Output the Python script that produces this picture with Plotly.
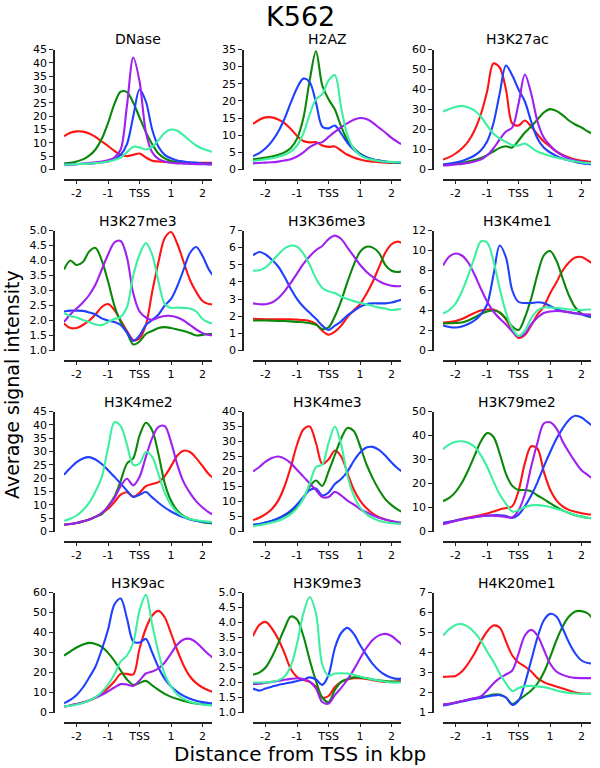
import plotly.graph_objects as go

# ---------------- data ----------------
X_KBP = [-2.4, -2.2, -2.0, -1.8, -1.6, -1.4, -1.2, -1.0, -0.8, -0.6, -0.4, -0.2, 0.0,
         0.2, 0.4, 0.6, 0.8, 1.0, 1.2, 1.4, 1.6, 1.8, 2.0, 2.2, 2.4]
X_TICKS = [-2, -1, 0, 1, 2]
X_TICK_LABELS = ["-2", "-1", "TSS", "1", "2"]

PANEL_NAMES = ["DNase", "H2AZ", "H3K27ac", "H3K27me3", "H3K36me3", "H3K4me1",
               "H3K4me2", "H3K4me3", "H3K79me2", "H3K9ac", "H3K9me3", "H4K20me1"]
# (min, max, step) of each panel's y axis
Y_AXES = [(0, 45, 5), (0, 35, 5), (0, 60, 10), (1.0, 5.0, 0.5), (0, 7, 1), (0, 12, 2),
          (0, 45, 5), (0, 40, 5), (0, 50, 10), (0, 60, 10), (1.0, 5.0, 0.5), (1, 7, 1)]

SERIES = ["red", "green", "blue", "purple", "aqua"]
SERIES_COLORS = {"red": "#ff1414", "green": "#0a880a", "blue": "#2040ff",
                 "purple": "#a020f0", "aqua": "#3cf0a0"}

# DNase
DNASE_RED = [12.5, 13.8, 14.3, 14.2, 13.5, 12.2, 10.5, 8.8, 7.0, 5.5, 5.0, 5.5, 6.0, 4.5, 3.3, 3.0, 2.8, 2.7, 2.6, 2.6, 2.5, 2.5, 2.5, 2.5, 2.5]
DNASE_GREEN = [2.2, 2.5, 3.0, 3.8, 5.2, 7.5, 11.5, 17.5, 24.5, 29.2, 29.0, 25.0, 19.5, 14.0, 9.5, 6.0, 4.2, 3.2, 2.7, 2.4, 2.3, 2.2, 2.1, 2.0, 2.0]
DNASE_BLUE = [1.8, 1.9, 2.0, 2.1, 2.2, 2.4, 2.7, 3.0, 3.8, 5.5, 9.5, 20.0, 30.0, 25.5, 15.0, 8.5, 5.5, 4.2, 3.4, 3.0, 2.7, 2.5, 2.3, 2.2, 2.2]
DNASE_PURPLE = [1.8, 1.9, 2.0, 2.2, 2.4, 2.7, 3.0, 3.5, 4.5, 7.5, 24.0, 42.0, 33.0, 14.0, 6.5, 4.0, 3.0, 2.5, 2.3, 2.2, 2.1, 2.0, 2.0, 1.9, 1.9]
DNASE_AQUA = [1.8, 1.9, 2.0, 2.1, 2.2, 2.4, 2.6, 3.0, 3.6, 4.5, 6.5, 8.5, 8.3, 7.5, 8.5, 11.0, 13.8, 15.0, 14.5, 12.8, 10.8, 9.0, 7.8, 7.0, 6.3]

# H2AZ
H2AZ_RED = [13.3, 14.5, 15.2, 15.2, 14.6, 13.5, 11.8, 9.8, 8.3, 7.9, 8.0, 7.0, 6.6, 6.7, 5.5, 4.3, 3.5, 2.9, 2.5, 2.3, 2.1, 2.0, 1.9, 1.9, 1.9]
H2AZ_GREEN = [3.0, 3.2, 3.5, 3.8, 4.3, 5.0, 6.3, 9.0, 15.0, 26.0, 34.5, 24.5, 20.5, 17.5, 12.5, 8.5, 6.2, 4.6, 3.6, 3.0, 2.6, 2.3, 2.1, 2.0, 2.0]
H2AZ_BLUE = [3.9, 4.8, 6.2, 8.2, 11.0, 14.8, 19.5, 23.8, 26.5, 25.5, 19.5, 12.5, 12.0, 12.8, 10.5, 7.8, 5.8, 4.5, 3.6, 3.0, 2.6, 2.3, 2.1, 2.0, 2.0]
H2AZ_PURPLE = [1.8, 1.9, 2.0, 2.1, 2.3, 2.6, 3.0, 3.8, 5.0, 6.5, 7.5, 8.0, 9.5, 11.0, 12.3, 13.5, 14.5, 15.0, 14.7, 13.7, 12.2, 10.8, 9.2, 8.0, 7.0]
H2AZ_AQUA = [2.5, 2.7, 3.0, 3.3, 3.7, 4.3, 5.2, 7.0, 10.5, 16.0, 20.5, 22.0, 26.0, 27.5, 18.0, 10.0, 6.0, 4.2, 3.3, 2.8, 2.5, 2.3, 2.2, 2.1, 2.1]

# H3K27ac
H3K27AC_RED = [5.0, 6.2, 8.0, 10.5, 14.0, 19.5, 27.5, 39.0, 53.0, 51.0, 40.0, 23.0, 22.0, 24.5, 21.5, 17.5, 14.0, 11.5, 9.0, 7.3, 6.0, 5.0, 4.4, 4.0, 3.7]
H3K27AC_GREEN = [2.5, 2.7, 3.0, 3.4, 4.0, 4.8, 5.8, 7.2, 9.0, 10.8, 11.6, 11.0, 14.5, 18.5, 21.5, 25.0, 28.5, 30.2, 29.3, 27.2, 24.5, 22.5, 21.0, 19.0, 17.5]
H3K27AC_BLUE = [2.5, 3.0, 3.5, 4.3, 5.5, 7.0, 9.5, 14.0, 23.0, 38.0, 52.0, 47.0, 40.0, 34.0, 24.0, 15.5, 11.0, 8.5, 6.8, 5.5, 4.6, 3.8, 3.2, 2.8, 2.6]
H3K27AC_PURPLE = [2.0, 2.2, 2.5, 2.8, 3.3, 4.0, 5.0, 7.0, 10.5, 15.0, 19.0, 21.0, 33.0, 47.5, 38.0, 24.0, 16.0, 12.0, 9.0, 7.0, 5.5, 4.5, 3.8, 3.4, 3.1]
H3K27AC_AQUA = [29.0, 30.3, 31.3, 31.8, 31.0, 29.5, 26.5, 22.0, 18.0, 15.5, 13.8, 12.2, 12.0, 13.0, 11.0, 9.0, 7.8, 6.8, 6.0, 5.3, 4.6, 4.0, 3.5, 3.2, 3.0]

# H3K27me3
H3K27ME3_RED = [1.9, 1.75, 1.75, 1.85, 2.0, 2.2, 2.45, 2.55, 2.35, 2.0, 1.65, 1.35, 1.4, 1.85, 2.95, 3.95, 4.75, 4.95, 4.55, 3.95, 3.35, 2.95, 2.65, 2.55, 2.55]
H3K27ME3_GREEN = [3.7, 4.0, 3.85, 3.95, 4.3, 4.42, 4.0, 3.3, 2.5, 1.95, 1.6, 1.2, 1.3, 1.55, 1.65, 1.75, 1.78, 1.75, 1.7, 1.65, 1.58, 1.5, 1.52, 1.55, 1.55]
H3K27ME3_BLUE = [2.3, 2.33, 2.33, 2.32, 2.27, 2.2, 2.07, 2.0, 1.95, 1.85, 1.6, 1.32, 1.5, 1.85, 2.02, 2.2, 2.5, 2.72, 3.15, 3.7, 4.25, 4.45, 4.15, 3.7, 3.4]
H3K27ME3_PURPLE = [1.95, 2.2, 2.4, 2.6, 2.85, 3.2, 3.7, 4.2, 4.6, 4.65, 4.1, 2.9, 2.3, 2.1, 2.02, 2.1, 2.15, 2.15, 2.1, 2.0, 1.85, 1.7, 1.58, 1.52, 1.5]
H3K27ME3_AQUA = [2.25, 2.15, 2.1, 2.02, 1.95, 1.87, 1.85, 1.95, 2.05, 2.12, 2.45, 3.5, 4.2, 4.58, 4.2, 3.3, 2.55, 2.42, 2.43, 2.42, 2.4, 2.3, 2.05, 1.93, 1.9]

# H3K36me3
H3K36ME3_RED = [1.85, 1.83, 1.82, 1.82, 1.82, 1.82, 1.82, 1.8, 1.78, 1.72, 1.55, 1.15, 0.92, 1.1, 1.45, 1.95, 2.35, 2.7, 3.3, 4.0, 4.85, 5.7, 6.2, 6.35, 6.2]
H3K36ME3_GREEN = [1.75, 1.75, 1.75, 1.74, 1.72, 1.72, 1.7, 1.67, 1.65, 1.6, 1.5, 1.25, 1.35, 2.0, 2.9, 4.0, 5.0, 5.75, 6.05, 6.0, 5.7, 5.0, 4.65, 4.58, 4.68]
H3K36ME3_BLUE = [5.55, 5.75, 5.6, 5.3, 4.9, 4.3, 3.6, 3.0, 2.55, 2.2, 1.85, 1.45, 1.2, 1.45, 1.7, 2.05, 2.3, 2.55, 2.7, 2.75, 2.75, 2.75, 2.8, 2.9, 3.0]
H3K36ME3_PURPLE = [2.75, 2.7, 2.7, 2.8, 3.05, 3.45, 3.95, 4.5, 5.05, 5.5, 5.85, 6.1, 6.5, 6.7, 6.5, 6.0, 5.5, 5.0, 4.6, 4.3, 4.05, 3.88, 3.78, 3.75, 3.78]
H3K36ME3_AQUA = [4.65, 4.68, 4.85, 5.2, 5.6, 5.95, 6.12, 6.05, 5.65, 5.0, 4.2, 3.65, 3.45, 3.35, 3.15, 3.0, 2.88, 2.78, 2.7, 2.6, 2.5, 2.45, 2.36, 2.4, 2.45]

# H3K4me1
H3K4ME1_RED = [2.8, 2.85, 2.95, 3.15, 3.45, 3.75, 4.0, 4.1, 4.1, 3.8, 3.1, 2.0, 1.25, 1.55, 2.5, 3.6, 4.4, 5.7, 6.8, 8.0, 8.8, 9.3, 9.35, 9.0, 8.6]
H3K4ME1_GREEN = [2.7, 2.72, 2.75, 2.8, 3.0, 3.3, 3.65, 3.9, 4.0, 3.8, 3.2, 2.4, 2.05, 3.3, 5.2, 7.6, 9.5, 9.95, 9.0, 7.2, 5.5, 4.3, 3.7, 3.4, 3.3]
H3K4ME1_BLUE = [2.5, 2.35, 2.3, 2.4, 2.65, 3.0, 3.6, 4.6, 7.5, 10.5, 9.3, 6.0, 4.85, 4.75, 4.75, 4.82, 4.75, 4.45, 4.15, 3.95, 3.8, 3.7, 3.6, 3.45, 3.4]
H3K4ME1_PURPLE = [8.5, 9.4, 9.7, 9.5, 8.8, 7.6, 6.2, 4.9, 3.9, 3.2, 2.6, 1.9, 1.4, 1.7, 2.6, 3.3, 3.75, 3.9, 3.95, 3.9, 3.85, 3.75, 3.65, 3.6, 3.6]
H3K4ME1_AQUA = [3.7, 4.05, 4.7, 5.9, 7.5, 9.3, 10.9, 10.8, 9.0, 6.2, 3.8, 2.2, 1.45, 2.0, 3.2, 4.0, 4.3, 4.3, 4.25, 4.2, 4.1, 4.05, 4.05, 4.1, 4.1]

# H3K4me2
H3K4ME2_RED = [2.5, 2.8, 3.2, 3.8, 4.5, 5.5, 6.8, 8.5, 11.0, 13.8, 14.7, 13.0, 14.5, 17.0, 17.8, 18.5, 20.8, 24.5, 28.5, 30.3, 29.8, 27.5, 24.5, 21.5, 19.5]
H3K4ME2_GREEN = [2.5, 2.8, 3.2, 3.8, 4.5, 5.5, 6.5, 9.5, 13.0, 19.0, 25.5, 27.5, 36.0, 40.8, 38.0, 29.0, 18.0, 11.5, 7.8, 5.8, 4.7, 4.0, 3.5, 3.2, 3.0]
H3K4ME2_BLUE = [21.3, 23.8, 26.0, 27.4, 27.9, 27.0, 25.3, 23.0, 20.5, 18.0, 15.3, 13.0, 13.8, 14.8, 12.8, 10.8, 9.0, 7.5, 6.3, 5.3, 4.5, 4.0, 3.6, 3.4, 3.3]
H3K4ME2_PURPLE = [2.5, 2.8, 3.2, 3.8, 4.5, 5.5, 7.0, 9.3, 12.5, 17.0, 19.8, 17.3, 20.5, 28.0, 35.0, 39.2, 39.5, 33.5, 25.0, 18.5, 14.5, 11.3, 9.0, 7.2, 6.0]
H3K4ME2_AQUA = [4.0, 4.8, 6.0, 8.0, 10.8, 15.0, 20.5, 31.4, 41.0, 39.5, 32.5, 25.0, 25.5, 29.8, 28.0, 21.5, 14.5, 10.0, 7.2, 5.6, 4.7, 4.2, 3.9, 3.6, 3.5]

# H3K4me3
H3K4ME3_RED = [3.8, 4.6, 5.8, 7.5, 10.3, 15.0, 21.5, 29.0, 34.0, 35.0, 29.5, 22.5, 24.0, 27.0, 25.0, 19.5, 14.0, 10.3, 7.8, 6.0, 4.8, 4.0, 3.4, 3.0, 2.8]
H3K4ME3_GREEN = [2.2, 2.5, 3.0, 3.5, 4.3, 5.3, 6.5, 8.3, 11.0, 15.0, 17.0, 15.2, 20.0, 25.5, 31.0, 34.5, 33.5, 28.5, 22.5, 17.8, 13.9, 10.8, 8.8, 7.3, 6.2]
H3K4ME3_BLUE = [2.2, 2.5, 3.0, 3.6, 4.4, 5.5, 7.0, 9.0, 11.5, 13.8, 14.3, 12.0, 13.0, 15.8, 17.5, 20.0, 23.5, 26.3, 28.0, 28.2, 27.2, 25.3, 23.0, 21.0, 19.5]
H3K4ME3_PURPLE = [20.0, 21.5, 23.3, 24.5, 25.0, 24.3, 22.8, 20.5, 18.3, 16.0, 13.8, 11.5, 11.5, 13.2, 12.0, 10.3, 9.0, 7.5, 6.4, 5.4, 4.6, 4.0, 3.5, 3.1, 2.9]
H3K4ME3_AQUA = [1.8, 2.1, 2.5, 3.0, 3.6, 4.5, 5.8, 7.8, 11.0, 16.0, 21.5, 22.3, 29.5, 35.0, 29.0, 18.5, 12.0, 8.0, 5.8, 4.5, 3.6, 3.1, 2.8, 2.6, 2.5]

# H3K79me2
H3K79ME2_RED = [3.5, 4.0, 4.6, 5.2, 5.8, 6.3, 6.9, 7.5, 8.3, 9.2, 9.8, 10.5, 17.0, 28.5, 35.5, 34.5, 25.0, 17.5, 13.0, 10.5, 9.0, 8.2, 7.6, 7.2, 7.0]
H3K79ME2_GREEN = [12.6, 14.0, 16.5, 20.3, 25.5, 31.5, 37.5, 41.0, 39.5, 32.5, 24.0, 19.0, 17.3, 17.3, 16.8, 15.0, 13.5, 11.8, 10.2, 8.8, 7.7, 6.8, 6.2, 5.7, 5.4]
H3K79ME2_BLUE = [3.5, 4.0, 4.6, 5.1, 5.6, 6.0, 6.4, 6.6, 6.8, 6.8, 6.5, 5.6, 7.0, 10.5, 15.0, 20.5, 27.0, 33.0, 38.5, 43.0, 46.5, 48.2, 47.5, 45.5, 43.5]
H3K79ME2_PURPLE = [3.0, 3.7, 4.4, 5.0, 5.5, 6.0, 6.4, 6.6, 6.6, 6.4, 6.0, 5.9, 8.8, 15.5, 27.0, 37.0, 45.0, 45.5, 43.0, 37.5, 33.0, 29.0, 25.5, 23.5, 21.5]
H3K79ME2_AQUA = [34.3, 36.3, 37.4, 37.6, 37.0, 35.3, 31.8, 27.0, 21.0, 15.5, 11.5, 8.3, 8.8, 10.2, 10.9, 11.0, 10.7, 10.2, 9.5, 8.7, 7.8, 6.9, 6.2, 5.7, 5.4]

# H3K9ac
H3K9AC_RED = [3.0, 3.5, 4.2, 5.0, 6.0, 7.5, 9.5, 12.3, 15.5, 19.3, 19.3, 19.0, 32.0, 42.0, 48.5, 50.8, 47.5, 39.5, 31.0, 23.5, 18.0, 14.7, 12.5, 11.0, 10.0]
H3K9AC_GREEN = [28.5, 30.5, 32.5, 34.0, 34.8, 34.3, 32.8, 29.8, 25.8, 21.0, 16.5, 13.8, 14.8, 15.8, 13.6, 11.3, 9.3, 7.8, 6.7, 5.8, 5.0, 4.5, 4.1, 3.8, 3.6]
H3K9AC_BLUE = [4.6, 6.3, 8.8, 12.5, 17.5, 23.0, 31.5, 41.5, 54.0, 57.0, 47.0, 35.5, 35.0, 36.8, 30.0, 22.5, 16.8, 13.0, 10.3, 8.3, 6.9, 5.9, 5.2, 4.7, 4.4]
H3K9AC_PURPLE = [3.0, 3.5, 4.2, 5.0, 6.0, 7.3, 8.8, 10.6, 12.5, 14.2, 14.0, 13.3, 16.0, 19.5, 20.5, 22.0, 25.0, 29.5, 34.0, 36.5, 36.8, 35.0, 32.0, 29.0, 26.5]
H3K9AC_AQUA = [3.0, 3.4, 4.0, 4.8, 6.0, 7.7, 10.3, 14.0, 19.0, 25.5, 28.5, 35.0, 51.0, 58.8, 44.0, 30.0, 19.0, 13.0, 9.0, 6.8, 5.4, 4.6, 4.0, 3.7, 3.5]

# H3K9me3
H3K9ME3_RED = [3.55, 3.92, 4.02, 3.8, 3.45, 2.98, 2.45, 2.18, 2.08, 2.02, 1.86, 1.5, 1.55, 1.85, 2.02, 2.1, 2.14, 2.14, 2.12, 2.08, 2.04, 2.02, 2.02, 2.04, 2.05]
H3K9ME3_GREEN = [2.26, 2.33, 2.5, 2.85, 3.3, 3.8, 4.2, 4.1, 3.55, 2.75, 2.05, 1.5, 1.35, 1.75, 2.02, 2.12, 2.17, 2.17, 2.14, 2.1, 2.07, 2.05, 2.03, 2.02, 2.02]
H3K9ME3_BLUE = [1.8, 1.73, 1.8, 1.86, 1.92, 1.96, 2.0, 2.05, 2.1, 2.17, 2.1, 1.92, 2.25, 3.15, 3.65, 3.82, 3.62, 3.25, 2.92, 2.62, 2.4, 2.25, 2.16, 2.12, 2.15]
H3K9ME3_PURPLE = [1.95, 1.96, 1.99, 2.02, 2.05, 2.09, 2.12, 2.14, 2.12, 2.03, 1.8, 1.35, 1.3, 1.58, 1.82, 2.1, 2.43, 2.8, 3.15, 3.42, 3.57, 3.62, 3.55, 3.38, 3.2]
H3K9ME3_AQUA = [2.0, 2.0, 2.0, 2.02, 2.07, 2.2, 2.55, 3.3, 4.3, 4.85, 4.3, 2.6, 2.22, 2.3, 2.31, 2.3, 2.26, 2.2, 2.14, 2.1, 2.06, 2.03, 2.0, 2.0, 2.02]

# H4K20me1
H4K20ME1_RED = [2.78, 2.8, 2.83, 3.05, 3.45, 3.95, 4.55, 5.05, 5.35, 5.25, 4.55, 3.85, 3.5, 3.3, 3.05, 2.72, 2.52, 2.4, 2.3, 2.2, 2.1, 2.0, 1.95, 1.93, 1.95]
H4K20ME1_GREEN = [1.4, 1.43, 1.5, 1.57, 1.64, 1.7, 1.75, 1.82, 1.9, 1.9, 1.75, 1.42, 1.62, 1.85, 2.1, 2.45, 3.0, 3.76, 4.6, 5.3, 5.8, 6.05, 6.07, 5.95, 5.6]
H4K20ME1_BLUE = [1.35, 1.4, 1.47, 1.55, 1.62, 1.68, 1.73, 1.8, 1.85, 1.87, 1.75, 1.38, 1.6, 2.45, 3.6, 4.75, 5.6, 5.93, 5.8, 5.2, 4.5, 3.95, 3.6, 3.47, 3.45]
H4K20ME1_PURPLE = [1.4, 1.43, 1.5, 1.57, 1.65, 1.72, 1.8, 2.1, 2.45, 2.72, 2.9, 3.1, 3.95, 4.85, 5.13, 4.85, 4.15, 3.45, 3.05, 2.88, 2.78, 2.73, 2.72, 2.72, 2.72]
H4K20ME1_AQUA = [4.85, 5.17, 5.38, 5.42, 5.28, 5.0, 4.6, 4.05, 3.55, 2.95, 2.45, 2.07, 2.22, 2.32, 2.33, 2.3, 2.27, 2.2, 2.1, 2.03, 1.98, 1.95, 1.93, 1.93, 1.93]

PANEL_DATA = [
    [DNASE_RED, DNASE_GREEN, DNASE_BLUE, DNASE_PURPLE, DNASE_AQUA],
    [H2AZ_RED, H2AZ_GREEN, H2AZ_BLUE, H2AZ_PURPLE, H2AZ_AQUA],
    [H3K27AC_RED, H3K27AC_GREEN, H3K27AC_BLUE, H3K27AC_PURPLE, H3K27AC_AQUA],
    [H3K27ME3_RED, H3K27ME3_GREEN, H3K27ME3_BLUE, H3K27ME3_PURPLE, H3K27ME3_AQUA],
    [H3K36ME3_RED, H3K36ME3_GREEN, H3K36ME3_BLUE, H3K36ME3_PURPLE, H3K36ME3_AQUA],
    [H3K4ME1_RED, H3K4ME1_GREEN, H3K4ME1_BLUE, H3K4ME1_PURPLE, H3K4ME1_AQUA],
    [H3K4ME2_RED, H3K4ME2_GREEN, H3K4ME2_BLUE, H3K4ME2_PURPLE, H3K4ME2_AQUA],
    [H3K4ME3_RED, H3K4ME3_GREEN, H3K4ME3_BLUE, H3K4ME3_PURPLE, H3K4ME3_AQUA],
    [H3K79ME2_RED, H3K79ME2_GREEN, H3K79ME2_BLUE, H3K79ME2_PURPLE, H3K79ME2_AQUA],
    [H3K9AC_RED, H3K9AC_GREEN, H3K9AC_BLUE, H3K9AC_PURPLE, H3K9AC_AQUA],
    [H3K9ME3_RED, H3K9ME3_GREEN, H3K9ME3_BLUE, H3K9ME3_PURPLE, H3K9ME3_AQUA],
    [H4K20ME1_RED, H4K20ME1_GREEN, H4K20ME1_BLUE, H4K20ME1_PURPLE, H4K20ME1_AQUA],
]

# ---------------- layout geometry (pixels) ----------------
W, H = 600, 768
COL_LEFT = [64, 253, 443]
COL_W = 148
ROW_TOP = [49.5, 230.5, 411.5, 592.5]
ROW_H = 120
SPINE_OFFSET = 10
FONT = "DejaVu Sans"


def fx(px):
    return px / W


def fy(py):
    return 1 - py / H


fig = go.Figure()
layout = dict(
    width=W, height=H,
    margin=dict(l=0, r=0, t=0, b=0),
    paper_bgcolor="white", plot_bgcolor="white",
    showlegend=False,
    font=dict(family=FONT, color="black"),
)
annotations = []

for i, name in enumerate(PANEL_NAMES):
    r, c = divmod(i, 3)
    left = COL_LEFT[c]
    right = left + COL_W
    top = ROW_TOP[r]
    bottom = top + ROW_H
    k = "" if i == 0 else str(i + 1)
    ymin, ymax, ystep = Y_AXES[i]
    nt = int(round((ymax - ymin) / ystep))
    yt = [ymin + j * ystep for j in range(nt + 1)]
    fmt = ".1f" if ystep < 1 else "d"

    layout["xaxis" + k] = dict(
        domain=[fx(left), fx(right)], range=[-2.4, 2.3],
        anchor="free", position=fy(bottom + SPINE_OFFSET),
        showline=True, linecolor="#222", linewidth=1.5,
        ticks="outside", ticklen=4, tickwidth=1.2, tickcolor="#222",
        tickvals=X_TICKS, ticktext=X_TICK_LABELS,
        tickfont=dict(size=11, family=FONT, color="black"),
        showgrid=False, zeroline=False, fixedrange=True, automargin=False,
    )
    layout["yaxis" + k] = dict(
        domain=[fy(bottom), fy(top)], range=[ymin, ymax],
        anchor="free", position=fx(left - SPINE_OFFSET),
        showline=True, linecolor="#222", linewidth=1.5,
        ticks="outside", ticklen=4, tickwidth=1.2, tickcolor="#222",
        tickvals=yt, tickformat=fmt,
        tickfont=dict(size=11, family=FONT, color="black"),
        showgrid=False, zeroline=False, fixedrange=True, automargin=False,
    )
    for s, ys in zip(SERIES, PANEL_DATA[i]):
        fig.add_trace(go.Scatter(
            x=X_KBP, y=ys, mode="lines",
            line=dict(color=SERIES_COLORS[s], width=2.1, shape="spline", smoothing=0.9),
            xaxis="x" + k, yaxis="y" + k, hoverinfo="skip", name=s,
        ))
    annotations.append(dict(
        text=name, x=fx((left + right) / 2), y=fy(top - 10),
        xref="paper", yref="paper", showarrow=False,
        xanchor="center", yanchor="middle",
        font=dict(size=14, family=FONT, color="black"),
    ))

annotations.append(dict(text="K562", x=0.5, y=fy(17), xref="paper", yref="paper",
                        showarrow=False, xanchor="center", yanchor="middle",
                        font=dict(size=27, family=FONT, color="black")))
annotations.append(dict(text="Average signal intensity", x=fx(12), y=fy(385),
                        xref="paper", yref="paper", showarrow=False, textangle=-90,
                        xanchor="center", yanchor="middle",
                        font=dict(size=19, family=FONT, color="black")))
annotations.append(dict(text="Distance from TSS in kbp", x=0.5, y=fy(754),
                        xref="paper", yref="paper", showarrow=False,
                        xanchor="center", yanchor="middle",
                        font=dict(size=20, family=FONT, color="black")))
layout["annotations"] = annotations
fig.update_layout(**layout)
fig.write_html("out.html", config={"displayModeBar": False},
               post_script="document.body.style.margin='0px';")
